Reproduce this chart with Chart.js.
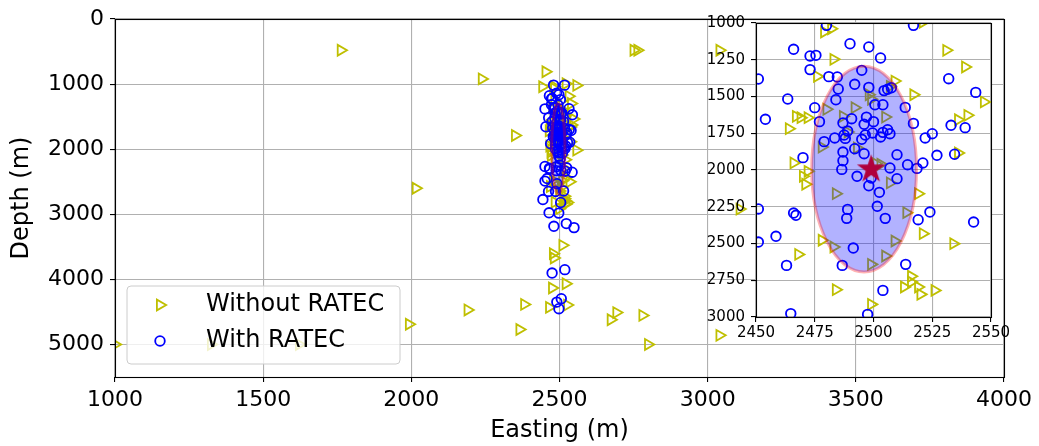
<!DOCTYPE html>
<html><head><meta charset="utf-8">
<script src="https://cdn.jsdelivr.net/npm/chart.js@4.4.1/dist/chart.umd.min.js"></script>
<style>
html,body{margin:0;padding:0;background:#fff;}
#wrap{position:relative;width:1039px;height:446px;}
canvas{position:absolute;left:0;top:0;}
</style></head><body>
<div id="wrap"><canvas id="main" width="1039" height="446"></canvas><canvas id="inset" width="1039" height="446"></canvas></div>
<script>
// ---- data ----
const withoutRatecEasting = [1762,2750,2763,3040,2238,2453,2442,2557,2350,2015,2557,3108,2510,2478,2481,2521,2475,2381,2465,2526,2190,1992,2365,2673,2692,2780,2799,1000,1324,1621,3040,
  2479,2482,2521,2483,2531,2539,2476,2509,2507,2498,2499,2517,2547,2480,2492,2467,2469,2472,2487,2505,2464,2536,2540,2478,2536,2466,2472,2470,2471,2503,2507,2484,2519,2514,2478,2483,2509,2521,2534,2468,2505,2499,2516,2516,2513,2519,2520,2526,2484,2499,2489,2493,2501];
const withoutRatecDepth = [480,480,480,480,920,810,1041,1020,1790,2600,2015,2920,3477,3605,3672,4067,4133,4385,4430,4395,4470,4690,4770,4620,4510,4554,5000,5000,5000,5000,4860,
  1061,1039,995,1247,1186,1299,1363,1395,1431,1488,1519,1488,1537,1587,1576,1635,1644,1644,1635,1640,1719,1658,1628,1844,1884,1952,2009,2043,2097,1961,2088,2161,2161,2290,2478,2524,2483,2433,2501,2574,2585,2642,2723,2762,2796,2796,2846,2819,2814,2914,1742,1850,1957];
const withRatecEasting = [2480,2517,2490,2498,2466,2473,2475.5,2503,2473,2495,2451,2481,2484.6,2492,2498,2485,2504.5,2506,2507.6,2463.5,2484,2500.6,2504,2475,2513.5,2454,2477,2490.7,2487,2497,2496,2500,2517,2489,2487.5,2488,2483.5,2479,2495,2496.5,2499.6,2503,2504,2506,2507,2522,2525,2533,2539,2532,2543.5,2492,2496,2487,2487,2486.5,2470,2510,2527,2534.5,2507,2514.5,2518.5,2521,2493,2499,2498,2510,2502.5,2501.6,2489,2488.6,2505,2451,2466,2467,2519,2524,2542.6,2458.5,2451,2491.4,2463,2486.7,2513.7,2504,2464.8,2497.5,
  2444,2481,2523,2549,2475,2518,2506,2491,2498];
const withRatecDepth = [1016,1016,1141,1163,1179,1224,1220,1238,1317,1322,1381,1365,1367,1417,1438,1449,1460,1451,1440,1517,1522,1556,1556,1576,1574,1655,1671,1651,1680,1640,1689,1671,1683,1735,1762,1785,1782,1807,1791,1762,1748,1775,1744,1726,1753,1782,1753,1696,1712,1379,1472,1855,1889,1878,1937,1996,1916,1896,1900,1893,1986,1964,1989,1952,2043,2054,2107,2059,2152,2247,2268,2329,2329,2265,2293,2308,2338,2286,2354,2451,2490,2531,2649,2649,2642,2819,2977,2982,
  2774,3185,3143,3205,3903,3851,4297,4349,4451];
const ellipseCenter = [2496, 1994];      // easting, depth
const ellipseSemiAxes = [22.3, 700];     // easting, depth
const epicenterEasting = [2499];
const epicenterDepth = [1995];
const xTicks = [1000,1500,2000,2500,3000,3500,4000];
const yTicks = [0,1000,2000,3000,4000,5000];
const insetXTicks = [2450,2475,2500,2525,2550];
const insetYTicks = [1000,1250,1500,1750,2000,2250,2500,2750,3000];
const seriesLabels = ['Without RATEC','With RATEC'];

// ---- helpers ----
const FONT = "'DejaVu Sans', 'Liberation Sans', sans-serif";
const pts = (xs, ys) => xs.map((x, i) => ({x, y: ys[i]}));
const TRI = {pointStyle:'triangle', pointRadius:6.2, pointRotation:90, pointBorderWidth:1.8, pointBorderColor:'#bfbf00', pointBackgroundColor:'rgba(0,0,0,0)'};
const CIR = {pointStyle:'circle', pointRadius:4.8, pointBorderWidth:1.8, pointBorderColor:'#0000ff', pointBackgroundColor:'rgba(0,0,0,0)'};

function makeStar(R, color){
  const c = document.createElement('canvas');
  const s = Math.ceil(2*R+2);
  c.width = s; c.height = s;
  const g = c.getContext('2d');
  g.fillStyle = color;
  g.beginPath();
  const r = R*0.382;
  for (let i=0;i<10;i++){
    const a = -Math.PI/2 + i*Math.PI/5;
    const rr = i%2===0 ? R : r;
    const px = s/2 + rr*Math.cos(a), py = s/2 + rr*Math.sin(a);
    if(i===0) g.moveTo(px,py); else g.lineTo(px,py);
  }
  g.closePath(); g.fill();
  return c;
}

const ellipsePlugin = {
  id:'ellipse',
  afterDatasetDraw(chart, args){
    if (args.index !== 1) return;
    const xs = chart.scales.x, ys = chart.scales.y, ctx = chart.ctx, a = chart.chartArea;
    const cx = xs.getPixelForValue(ellipseCenter[0]), cy = ys.getPixelForValue(ellipseCenter[1]);
    const rx = Math.abs(xs.getPixelForValue(ellipseCenter[0]+ellipseSemiAxes[0]) - cx);
    const ry = Math.abs(ys.getPixelForValue(ellipseCenter[1]+ellipseSemiAxes[1]) - cy);
    ctx.save();
    ctx.beginPath(); ctx.rect(a.left, a.top, a.right-a.left, a.bottom-a.top); ctx.clip();
    ctx.globalAlpha = 0.3;
    ctx.beginPath(); ctx.ellipse(cx, cy, rx, ry, 0, 0, Math.PI*2);
    ctx.fillStyle = '#0000ff'; ctx.fill();
    ctx.lineWidth = 3; ctx.strokeStyle = '#ff0000'; ctx.stroke();
    ctx.restore();
  }
};
const framePlugin = {
  id:'frame',
  beforeDraw(chart, args, opts){
    if (!opts.fillWhite) return;
    const a = chart.chartArea, ctx = chart.ctx;
    ctx.save(); ctx.fillStyle = '#fff'; ctx.fillRect(a.left, a.top, a.right-a.left, a.bottom-a.top); ctx.restore();
  },
  afterDatasetsDraw(chart){
    const a = chart.chartArea, ctx = chart.ctx;
    ctx.save(); ctx.strokeStyle = '#000'; ctx.lineWidth = 1.1;
    ctx.strokeRect(Math.round(a.left)+0.5, Math.round(a.top)+0.5, Math.round(a.right-a.left), Math.round(a.bottom-a.top));
    ctx.restore();
  }
};
const legendPlugin = {
  id:'boxLegend',
  afterDraw(chart){
    const ctx = chart.ctx;
    const x0 = 127, y0 = 286, w = 273, h = 78, r = 4;
    ctx.save();
    ctx.beginPath();
    ctx.moveTo(x0+r, y0); ctx.lineTo(x0+w-r, y0); ctx.arcTo(x0+w, y0, x0+w, y0+r, r);
    ctx.lineTo(x0+w, y0+h-r); ctx.arcTo(x0+w, y0+h, x0+w-r, y0+h, r);
    ctx.lineTo(x0+r, y0+h); ctx.arcTo(x0, y0+h, x0, y0+h-r, r);
    ctx.lineTo(x0, y0+r); ctx.arcTo(x0, y0, x0+r, y0, r); ctx.closePath();
    ctx.fillStyle = 'rgba(255,255,255,0.8)'; ctx.fill();
    ctx.strokeStyle = '#cccccc'; ctx.lineWidth = 1; ctx.stroke();
    const rows = [305, 341];
    const mx = 160;
    ctx.lineWidth = 1.8; ctx.strokeStyle = '#bfbf00';
    ctx.beginPath();
    const R = 6.2;
    ctx.moveTo(mx + R, rows[0]); ctx.lineTo(mx - R/2, rows[0] - R*Math.sqrt(3)/2); ctx.lineTo(mx - R/2, rows[0] + R*Math.sqrt(3)/2); ctx.closePath(); ctx.stroke();
    ctx.strokeStyle = '#0000ff';
    ctx.beginPath(); ctx.arc(mx, rows[1], 4.8, 0, Math.PI*2); ctx.stroke();
    ctx.fillStyle = '#000'; ctx.font = '24px ' + FONT; ctx.textBaseline = 'middle'; ctx.textAlign = 'left';
    ctx.fillText(seriesLabels[0], 206, rows[0]);
    ctx.fillText(seriesLabels[1], 206, rows[1]);
    ctx.restore();
  }
};

function setTicks(arr){ return (s) => { s.ticks = arr.map(v => ({value:v})); }; }

// ---- main chart ----
new Chart(document.getElementById('main'), {
  type:'scatter',
  data:{datasets:[
    Object.assign({label:seriesLabels[0], data:pts(withoutRatecEasting, withoutRatecDepth), order:2, clip:0}, TRI),
    Object.assign({label:seriesLabels[1], data:pts(withRatecEasting, withRatecDepth), order:1, clip:0}, CIR)
  ]},
  options:{
    responsive:false, animation:false, devicePixelRatio:1,
    layout:{padding:{left:0, top:19, right:35, bottom:0}},
    plugins:{legend:{display:false}, tooltip:{enabled:false}, frame:{fillWhite:false}},
    scales:{
      x:{type:'linear', min:1000, max:4000, afterBuildTicks:setTicks(xTicks),
        afterFit(s){ s.height = 69; s.paddingLeft = 0; s.paddingRight = 0; },
        grid:{color:'#b0b0b0', lineWidth:1.1, tickColor:'#000', tickLength:5},
        border:{display:false},
        ticks:{color:'#000', font:{family:FONT, size:22}, padding:5, maxRotation:0, autoSkip:false, callback:v=>String(v)},
        title:{display:true, text:'Easting (m)', color:'#000', font:{family:FONT, size:24}, padding:{top:0, bottom:1}}},
      y:{type:'linear', min:0, max:5500, reverse:true, afterBuildTicks:setTicks(yTicks),
        afterFit(s){ s.width = 115; s.paddingTop = 0; s.paddingBottom = 0; },
        grid:{color:'#b0b0b0', lineWidth:1.1, tickColor:'#000', tickLength:5},
        border:{display:false},
        ticks:{color:'#000', font:{family:FONT, size:22}, padding:6, autoSkip:false, callback:v=>String(v)},
        title:{display:true, text:'Depth (m)', color:'#000', font:{family:FONT, size:24}, padding:{top:7, bottom:0}}}
    }
  },
  plugins:[ellipsePlugin, framePlugin, legendPlugin]
});

// ---- inset chart ----
new Chart(document.getElementById('inset'), {
  type:'scatter',
  data:{datasets:[
    Object.assign({label:seriesLabels[0], data:pts(withoutRatecEasting, withoutRatecDepth), order:2, clip:0}, TRI),
    Object.assign({label:seriesLabels[1], data:pts(withRatecEasting, withRatecDepth), order:1, clip:0}, CIR),
    {label:'Epicentre', data:pts(epicenterEasting, epicenterDepth), order:0, clip:0, pointStyle:makeStar(15, '#b0003c'), pointRadius:15}
  ]},
  options:{
    responsive:false, animation:false, devicePixelRatio:1,
    layout:{padding:{left:706, top:23, right:48, bottom:99}},
    plugins:{legend:{display:false}, tooltip:{enabled:false}, frame:{fillWhite:true}},
    scales:{
      x:{type:'linear', min:2450, max:2550, afterBuildTicks:setTicks(insetXTicks),
        afterFit(s){ s.height = 30; s.paddingLeft = 0; s.paddingRight = 0; },
        grid:{color:'#b0b0b0', lineWidth:1.1, tickColor:'#000', tickLength:5},
        border:{display:false},
        ticks:{color:'#000', font:{family:FONT, size:15}, padding:2, maxRotation:0, autoSkip:false, callback:v=>String(v)},
        title:{display:false}},
      y:{type:'linear', min:1000, max:3000, reverse:true, afterBuildTicks:setTicks(insetYTicks),
        afterFit(s){ s.width = 50; s.paddingTop = 0; s.paddingBottom = 0; },
        grid:{color:'#b0b0b0', lineWidth:1.1, tickColor:'#000', tickLength:5},
        border:{display:false},
        ticks:{color:'#000', font:{family:FONT, size:15}, padding:6, autoSkip:false, callback:v=>String(v)},
        title:{display:false}}
    }
  },
  plugins:[ellipsePlugin, framePlugin]
});
</script>
</body></html>
